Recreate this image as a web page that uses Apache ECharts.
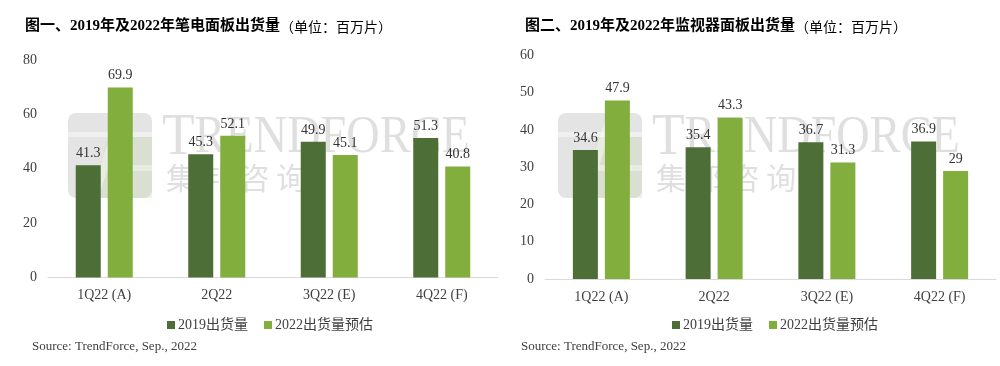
<!DOCTYPE html>
<html><head><meta charset="utf-8">
<script src="https://cdn.jsdelivr.net/npm/echarts@6/dist/echarts.min.js"></script>
<style>html,body{margin:0;padding:0;background:#fff}#c{width:1000px;height:366px}</style>
</head><body><div id="c"></div>
<script>
const categories = ['1Q22 (A)', '2Q22', '3Q22 (E)', '4Q22 (F)'];
const seriesNames = ['2019出货量', '2022出货量预估'];
const notebook2019 = [41.3, 45.3, 49.9, 51.3];
const notebook2022 = [69.9, 52.1, 45.1, 40.8];
const monitor2019 = [34.6, 35.4, 36.7, 36.9];
const monitor2022 = [47.9, 43.3, 31.3, 29];
const title1Bold = '图一、2019年及2022年笔电面板出货量';
const title2Bold = '图二、2019年及2022年监视器面板出货量';
const titleUnit = '（单位：百万片）';
const sourceText = 'Source: TrendForce, Sep., 2022';

const SERIF = '"Liberation Serif","Noto Sans CJK SC",serif';
const CJK = '"Noto Sans CJK SC",sans-serif';
const DARK = '#4e6e37';
const LIGHT = '#81ae3d';

function titleOpt(left, bold) {
  return {
    left: left, top: 14,
    text: '{b|' + bold + '}{n|' + titleUnit + '}',
    textStyle: {
      rich: {
        b: {fontFamily: SERIF, fontWeight: 'bold', fontSize: 15, color: '#000'},
        n: {fontFamily: CJK, fontWeight: 'normal', fontSize: 14, color: '#000'}
      }
    }
  };
}
function watermark(x) {
  const g = 'rgba(150,150,150,0.26)';
  const gr = 'rgba(190,215,160,0.28)';
  const w = 'rgba(255,255,255,0.4)';
  const Z = 3;
  return [
    {type: 'rect', left: x, top: 113, shape: {width: 84, height: 85, r: 8}, style: {fill: g}, z: Z, silent: true},
    {type: 'polygon', shape: {points: [[x + 40, 137], [x + 84, 137], [x + 84, 198], [x + 22, 198]]}, style: {fill: gr}, z: Z, silent: true},
    {type: 'rect', left: x, top: 132, shape: {width: 84, height: 5}, style: {fill: w}, z: Z, silent: true},
    {type: 'polygon', shape: {points: [[x + 50, 113], [x + 59, 113], [x + 30, 198], [x + 21, 198]]}, style: {fill: w}, z: Z, silent: true},
    {type: 'rect', left: x + 40, top: 165, shape: {width: 44, height: 6}, style: {fill: w}, z: Z, silent: true},
    {type: 'text', x: x + 94, y: 108, scaleX: 0.89, z: 1, silent: true, style: {text: '{t|T}{r|RENDFORCE}', rich: {
      t: {fontFamily: SERIF, fontSize: 60, fill: 'rgba(175,175,175,0.4)'},
      r: {fontFamily: SERIF, fontSize: 52, fill: 'rgba(175,175,175,0.4)'}}}},
    {type: 'text', left: x + 98, top: 163, z: 1, silent: true, style: {text: '集 邦 咨 询', fontFamily: CJK, fontSize: 30, fill: 'rgba(175,175,175,0.4)'}}
  ];
}
function xAxisOpt(gi) {
  return {
    type: 'category', gridIndex: gi, data: categories,
    axisLine: {lineStyle: {color: '#d9d9d9', width: 1}},
    axisTick: {show: false},
    axisLabel: {fontFamily: SERIF, fontSize: 14, color: '#404040', margin: 11}
  };
}
function yAxisOpt(gi, max, interval) {
  return {
    type: 'value', gridIndex: gi, min: 0, max: max, interval: interval,
    splitLine: {show: false}, axisLine: {show: false}, axisTick: {show: false},
    axisLabel: {fontFamily: SERIF, fontSize: 14, color: '#404040', margin: 11}
  };
}
function barSeries(name, idx, data, color) {
  return {
    name: name, type: 'bar', xAxisIndex: idx, yAxisIndex: idx, data: data,
    barWidth: 25, barGap: '28%', itemStyle: {color: color}, z: 3,
    label: {show: true, position: 'top', distance: 5, fontFamily: SERIF, fontSize: 14, color: '#333'}
  };
}
function legendOpt(left) {
  return {data: seriesNames, left: left, top: 313, itemWidth: 8, itemHeight: 8, itemGap: 16, icon: 'rect',
    textStyle: {fontFamily: SERIF, fontSize: 14, color: '#404040', padding: [0, 0, 0, -2]}};
}

const chart = echarts.init(document.getElementById('c'), null, {renderer: 'canvas'});
chart.setOption({
  backgroundColor: '#fff',
  animation: false,
  title: [
    titleOpt(20, title1Bold),
    titleOpt(520, title2Bold),
    {left: 27, top: 335, text: sourceText, textStyle: {fontFamily: SERIF, fontSize: 13, fontWeight: 'normal', color: '#404040'}},
    {left: 516, top: 335, text: sourceText, textStyle: {fontFamily: SERIF, fontSize: 13, fontWeight: 'normal', color: '#404040'}}
  ],
  graphic: watermark(68).concat(watermark(558)),
  legend: [legendOpt(162), legendOpt(667)],
  grid: [
    {left: 48, width: 450, top: 60, height: 217.5},
    {left: 545, width: 451, top: 55.5, height: 223.5}
  ],
  xAxis: [xAxisOpt(0), xAxisOpt(1)],
  yAxis: [yAxisOpt(0, 80, 20), yAxisOpt(1, 60, 10)],
  series: [
    barSeries(seriesNames[0], 0, notebook2019, DARK),
    barSeries(seriesNames[1], 0, notebook2022, LIGHT),
    barSeries(seriesNames[0], 1, monitor2019, DARK),
    barSeries(seriesNames[1], 1, monitor2022, LIGHT)
  ]
});
</script></body></html>
